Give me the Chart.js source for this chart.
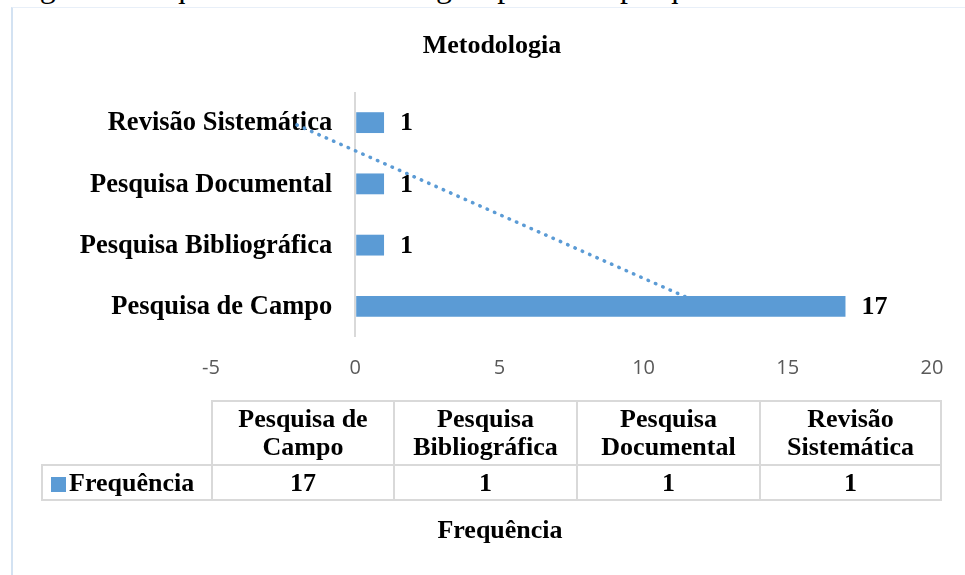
<!DOCTYPE html>
<html lang="pt">
<head>
    <meta charset="UTF-8">
    <title>Metodologia</title>
    <script src="https://cdn.jsdelivr.net/npm/chart.js"></script>
    <style>
        body { margin: 0; width: 965px; height: 575px; overflow: hidden; background: #fff; position: relative; }
        .serif { font-family: "Liberation Serif", "Times New Roman", serif; font-weight: bold; font-size: 26px; color: #000; }
        #caption { position: absolute; left: 13px; top: -32px; font-family: "Liberation Serif", serif; font-size: 32px; white-space: nowrap; line-height: 36px; }
        #frame { position: absolute; left: 11px; top: 7px; right: 0; bottom: 0; border-left: 2px solid #d3e2f2; border-top: 1px solid #e8eff8; }
        #chart { position: absolute; left: 0; top: 0; }
        #title { position: absolute; left: 392px; width: 200px; top: 29px; text-align: center; line-height: 32px; }
        #axisTitle { position: absolute; left: 400px; width: 200px; top: 514px; text-align: center; line-height: 32px; }
        #dataTable { position: absolute; left: 41px; top: 400px; border-collapse: collapse; table-layout: fixed; }
        #dataTable td { border: 2px solid #d9d9d9; text-align: center; padding: 0; line-height: 28px; }
        #dataTable tr.head td { height: 62px; }
        #dataTable tr.vals td { height: 33px; }
        #dataTable td.empty { border-top: none; border-left: none; }
        #dataTable td.rowname { text-align: left; padding-left: 8px; white-space: nowrap; }
        .key { display: inline-block; width: 15px; height: 15px; background: #5B9BD5; margin-right: 3px; vertical-align: -1px; }
    </style>
</head>
<body>
    <div id="caption">Figura 3: Sequência da metodologia aplicada à pesquisa</div>
    <div id="frame"></div>
    <canvas id="chart" width="965" height="575"></canvas>
    <div id="title" class="serif">Metodologia</div>
    <table id="dataTable" class="serif"></table>
    <div id="axisTitle" class="serif">Frequência</div>

    <script>
        // categories in the order of the data table (first one is drawn at the bottom)
        var categorias = ['Pesquisa de Campo', 'Pesquisa Bibliográfica', 'Pesquisa Documental', 'Revisão Sistemática'];
        var cabecalhos = [['Pesquisa de', 'Campo'], ['Pesquisa', 'Bibliográfica'], ['Pesquisa', 'Documental'], ['Revisão', 'Sistemática']];
        var serieNome = 'Frequência';
        var frequencia = [17, 1, 1, 1];
        // linear trendline as shown in the picture
        var tendencia = [12.2, 7.4, 2.6, -2.2];
        var eixoX = { min: -5, max: 20, passo: 5 };

        var AZUL = '#5B9BD5';
        var SERIF = '"Liberation Serif", "Times New Roman", serif';

        // data table under the chart
        var table = document.getElementById('dataTable');
        var widths = [170, 182, 183, 183, 181];
        var cg = '<colgroup>' + widths.map(function (w) { return '<col style="width:' + w + 'px">'; }).join('') + '</colgroup>';
        var head = '<tr class="head"><td class="empty"></td>' + cabecalhos.map(function (c) {
            return '<td>' + c.join('<br>') + '</td>';
        }).join('') + '</tr>';
        var vals = '<tr class="vals"><td class="rowname"><span class="key"></span>' + serieNome + '</td>' + frequencia.map(function (v) {
            return '<td>' + v + '</td>';
        }).join('') + '</tr>';
        table.innerHTML = cg + head + vals;

        var categoryLabels = {
            id: 'categoryLabels',
            beforeDatasetsDraw: function (chart) {
                var c = chart.ctx, xs = chart.scales.x, ys = chart.scales.y;
                var x0 = xs.getPixelForValue(0);
                c.save();
                c.font = 'bold 26.5px ' + SERIF;
                c.fillStyle = '#000';
                c.textAlign = 'right';
                c.textBaseline = 'middle';
                chart.data.labels.forEach(function (lab, i) {
                    c.fillText(lab, x0 - 23, ys.getPixelForTick(i) + 1);
                });
                c.restore();
            }
        };

        var valueLabels = {
            id: 'valueLabels',
            afterDatasetsDraw: function (chart) {
                var c = chart.ctx;
                var meta = chart.getDatasetMeta(0);
                c.save();
                c.font = 'bold 26px ' + SERIF;
                c.fillStyle = '#000';
                c.textAlign = 'left';
                c.textBaseline = 'middle';
                meta.data.forEach(function (bar, i) {
                    c.fillText(String(chart.data.datasets[0].data[i]), bar.x + 16, bar.y + 1);
                });
                c.restore();
            }
        };

        var ctx = document.getElementById('chart').getContext('2d');
        var chart = new Chart(ctx, {
            type: 'bar',
            data: {
                labels: categorias,
                datasets: [{
                    label: serieNome,
                    data: frequencia,
                    indexAxis: 'y',
                    backgroundColor: AZUL,
                    barPercentage: 0.34,
                    categoryPercentage: 1,
                    order: 1
                }, {
                    type: 'line',
                    label: 'Tendência',
                    data: tendencia,
                    indexAxis: 'y',
                    borderColor: AZUL,
                    borderWidth: 3.5,
                    borderDash: [0.5, 7.5],
                    borderCapStyle: 'round',
                    pointRadius: 0,
                    fill: false,
                    tension: 0,
                    order: 2
                }]
            },
            options: {
                indexAxis: 'y',
                responsive: false,
                animation: false,
                layout: { padding: { left: 211, right: 33, top: 92, bottom: 193 } },
                plugins: { legend: { display: false }, tooltip: { enabled: false }, title: { display: false } },
                scales: {
                    x: {
                        type: 'linear',
                        position: 'bottom',
                        min: eixoX.min,
                        max: eixoX.max,
                        ticks: {
                            stepSize: eixoX.passo,
                            padding: 19,
                            color: '#595959',
                            font: { family: '"Open Sans", sans-serif', size: 20 }
                        },
                        grid: {
                            drawTicks: false,
                            lineWidth: 2,
                            color: function (c) { return c.tick && c.tick.value === 0 ? '#d9d9d9' : 'rgba(0,0,0,0)'; }
                        },
                        border: { display: false },
                        afterFit: function (scale) { scale.height = 45; }
                    },
                    y: {
                        type: 'category',
                        reverse: true,
                        display: false
                    }
                }
            },
            plugins: [categoryLabels, valueLabels]
        });
    </script>
</body>
</html>
